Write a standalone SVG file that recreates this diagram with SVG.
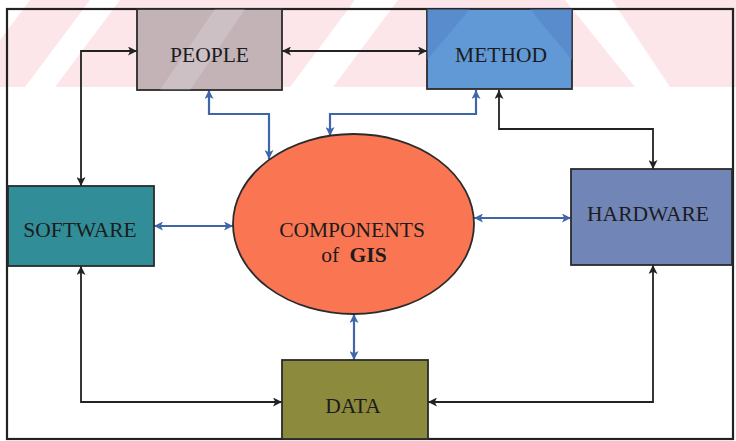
<svg xmlns="http://www.w3.org/2000/svg" width="736" height="441" viewBox="0 0 736 441">
<style>
.box{stroke:#2b2b2b;stroke-width:1.8}
.lbl{font-family:"Liberation Serif","Times New Roman",serif;font-size:21.5px;fill:#1c1c1c;text-anchor:middle}
.blk{fill:none;stroke:#222222;stroke-width:1.8;marker-start:url(#ab);marker-end:url(#ab)}
.blu{fill:none;stroke:#3f66a6;stroke-width:2.2;marker-start:url(#au);marker-end:url(#au)}
</style>
<defs>
<marker id="ab" viewBox="0 0 10 10" refX="10" refY="5" markerWidth="10" markerHeight="9" markerUnits="userSpaceOnUse" orient="auto-start-reverse">
<path d="M0,0 L10,5 L0,10 L2.5,5 Z" fill="#222222"/>
</marker>
<marker id="au" viewBox="0 0 10 10" refX="10" refY="5" markerWidth="9" markerHeight="9" markerUnits="userSpaceOnUse" orient="auto-start-reverse">
<path d="M0,0 L10,5 L0,10 L2.5,5 Z" fill="#3f66a6"/>
</marker>
</defs>
<rect width="736" height="441" fill="#ffffff"/>
<g id="watermark">
<rect x="0" y="0" width="736" height="87" fill="#fce6ea"/>
<polygon points="25,87 55,87 120,0 90,0" fill="#ffffff"/>
<polygon points="290,87 333,87 398,0 355,0" fill="#ffffff"/>
<polygon points="565,0 612,0 670,87 635,87" fill="#ffffff"/>
<polygon points="0,0 30,0 0,40" fill="#ffffff"/>
</g>
<rect id="frame" x="7" y="9" width="726" height="430" fill="none" stroke="#222222" stroke-width="2.2"/>
<g id="connectors">
<path class="blk" d="M81,186 V51 H137"/>
<path class="blk" d="M282,51 H427"/>
<path class="blk" d="M499,90 V129 H653 V169"/>
<path class="blk" d="M653,265 V402 H428"/>
<path class="blk" d="M81,266 V402 H282"/>
<path class="blu" d="M209,90 V114 H269 V159"/>
<path class="blu" d="M476,90 V114 H330 V136"/>
<path class="blu" d="M154,226 H233"/>
<path class="blu" d="M474,218 H571"/>
<path class="blu" d="M354,314 V360"/>
</g>
<g id="people">
<rect class="box" x="137" y="9" width="145" height="81" fill="#c3b3b7"/>
<polygon points="215,9 245,9 190,90 160,90" fill="#ffffff" opacity="0.18"/>
<text class="lbl" x="209.5" y="62">PEOPLE</text>
</g>
<g id="method">
<rect class="box" x="427" y="9" width="145" height="80" fill="#6199d6"/>
<polygon points="427,9 470,9 427,60" fill="#4f7fc4" opacity="0.5"/>
<polygon points="530,9 572,9 572,60" fill="#4f7fc4" opacity="0.5"/>
<text class="lbl" x="501" y="62">METHOD</text>
</g>
<g id="software">
<rect class="box" x="8" y="186" width="146" height="80" fill="#318e99"/>
<text class="lbl" x="80" y="237">SOFTWARE</text>
</g>
<g id="hardware">
<rect class="box" x="571" y="169" width="161" height="96" fill="#7185b6"/>
<text class="lbl" x="648" y="221">HARDWARE</text>
</g>
<g id="data">
<rect class="box" x="282" y="360" width="146" height="79" fill="#8c8a3d"/>
<text class="lbl" x="353" y="413">DATA</text>
</g>
<g id="gis">
<ellipse class="box" cx="353.5" cy="224" rx="120.5" ry="90" fill="#fa7653"/>
<text class="lbl" x="352" y="237">COMPONENTS</text>
<text class="lbl" x="354" y="262">of <tspan dx="5" font-weight="bold">GIS</tspan></text>
</g>
</svg>
